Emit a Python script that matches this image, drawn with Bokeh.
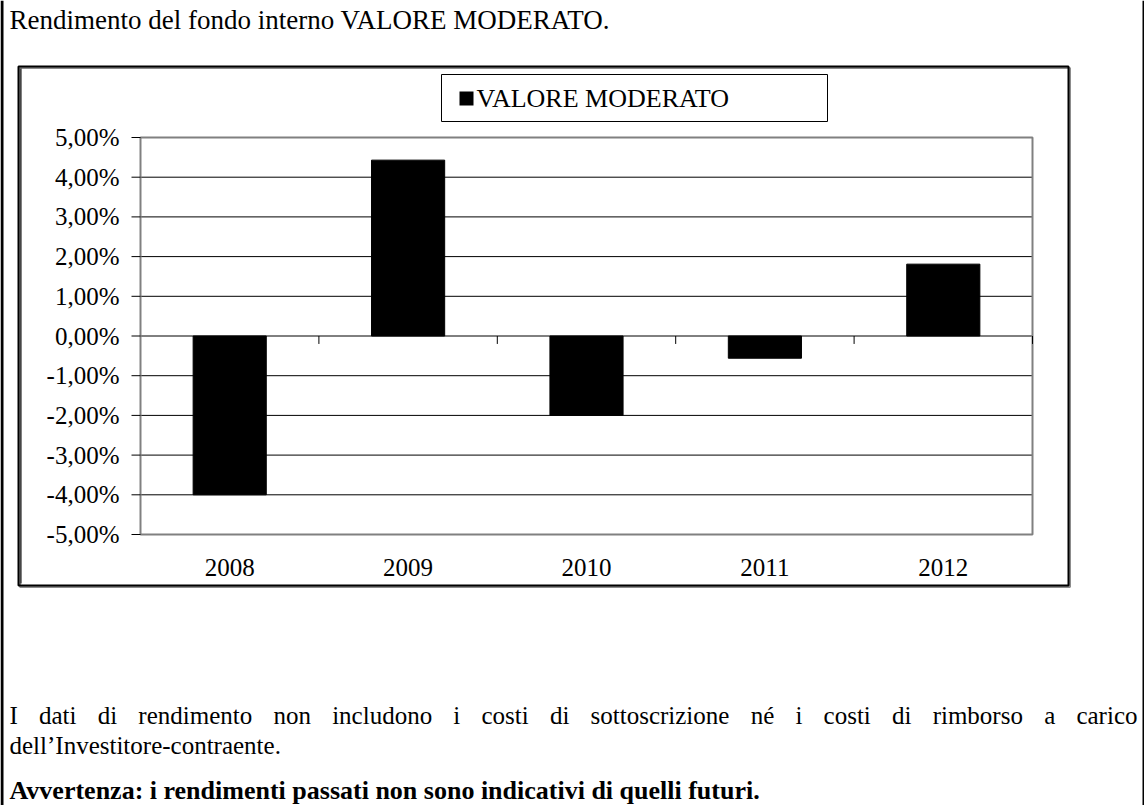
from bokeh.plotting import figure
from bokeh.models import Range1d
from bokeh.core.properties import value
from bokeh.embed import file_html
from bokeh.resources import INLINE

# ---------------- data ----------------
years = ["2008", "2009", "2010", "2011", "2012"]
returns = [-4.00, 4.43, -2.00, -0.56, 1.81]
series_name = "VALORE MODERATO"
y_tick_values = [-5, -4, -3, -2, -1, 0, 1, 2, 3, 4, 5]
y_tick_labels = ["-5,00%", "-4,00%", "-3,00%", "-2,00%", "-1,00%", "0,00%",
                 "1,00%", "2,00%", "3,00%", "4,00%", "5,00%"]
title_text = "Rendimento del  fondo interno VALORE MODERATO."
note_line1 = "I dati di rendimento non includono i costi di sottoscrizione né i costi di rimborso a carico"
note_line2 = "dell\u2019Investitore-contraente."
warning_text = "Avvertenza: i rendimenti passati non sono indicativi di quelli futuri."

# ---------------- layout (page px) ----------------
W, H = 1144, 805
PL, PT, PR, PB = 140, 137, 1032, 534          # plot area
FONT = "Liberation Serif"

xpos = list(range(1, len(years) + 1))
n = len(years)
y_lo, y_hi = y_tick_values[0], y_tick_values[-1]
ppx = (PR - PL) / n
ppy = (PB - PT) / (y_hi - y_lo)

x_range = Range1d(0.5 - PL / ppx, n + 0.5 + (W - PR) / ppx)
y_range = Range1d(y_lo - (H - PB) / ppy, y_hi + PT / ppy)

p = figure(width=W, height=H, output_backend="svg", toolbar_location=None,
           x_range=x_range, y_range=y_range,
           x_axis_type=None, y_axis_type=None, min_border=0)
p.extra_x_ranges = {"px": Range1d(0, W)}
p.extra_y_ranges = {"px": Range1d(H, 0)}
p.outline_line_color = None
p.background_fill_color = "white"
p.border_fill_color = "white"
PX = dict(x_range_name="px", y_range_name="px")

# outer page frame lines
p.quad(left=[0, 1142], right=[3, 1143.5], top=[0, 0], bottom=[H, H],
       fill_color="black", line_color=None, **PX)

# chart box with shadow and double left edge
p.quad(left=[19.5], right=[1069.5], top=[67.5], bottom=[586.5],
       fill_alpha=0, line_color="#8c8c8c", line_width=2, **PX)
p.quad(left=[18], right=[1068], top=[66], bottom=[585],
       fill_alpha=0, line_color="black", line_width=2, **PX)
p.segment(x0=[20.5], x1=[20.5], y0=[68], y1=[583],
          line_color="black", line_width=1, **PX)

# gridlines
inner = [v for v in y_tick_values if y_lo < v < y_hi]
p.segment(x0=[0.5] * len(inner), x1=[n + 0.5] * len(inner), y0=inner, y1=inner,
          line_color="black", line_width=1)

# bars
p.vbar(x=xpos, top=returns, bottom=0, width=0.41,
       fill_color="black", line_color="black")

# plot-area border
p.quad(left=[0.5], right=[n + 0.5], bottom=[y_lo], top=[y_hi],
       fill_alpha=0, line_color="#808080", line_width=2)

# category tick marks on the zero line
bounds = [x + 0.5 for x in xpos]
p.segment(x0=bounds, x1=bounds, y0=[0] * n, y1=[-0.2] * n,
          line_color="black", line_width=1)

# y-axis ticks and labels
p.segment(x0=[PL - 9] * len(y_tick_values), x1=[PL] * len(y_tick_values),
          y0=y_tick_values, y1=y_tick_values, x_range_name="px",
          line_color="black", line_width=1)
p.text(x=[PL - 21] * len(y_tick_values), y=y_tick_values, text=y_tick_labels,
       x_range_name="px", text_font=value(FONT), text_font_size="25px",
       text_align="right", text_baseline="middle", text_color="black")

# x-axis labels
p.text(x=xpos, y=[567] * n, text=years, y_range_name="px",
       text_font=value(FONT), text_font_size="25px",
       text_align="center", text_baseline="middle", text_color="black")

# legend
p.quad(left=[441], right=[827], top=[74], bottom=[121],
       fill_color="white", line_color="black", line_width=1, **PX)
p.quad(left=[459], right=[473], top=[91], bottom=[105],
       fill_color="black", line_color=None, **PX)
p.text(x=[476], y=[98], text=[series_name], **PX,
       text_font=value(FONT), text_font_size="26px",
       text_align="left", text_baseline="middle", text_color="black")


def add_text(texts, xs, ys, size, bold=False):
    p.text(x=xs, y=ys, text=texts, **PX, text_font=value(FONT),
           text_font_size=f"{size}px",
           text_font_style="bold" if bold else "normal",
           text_align="left", text_baseline="middle", text_color="black")


add_text([title_text], [9], [19.5], 27)

# justified first note line (Times metrics, per-mille em)
widths = {'I': 333, 'a': 444, 'b': 500, 'c': 444, 'd': 500, 'e': 444, 'f': 333,
          'g': 500, 'h': 500, 'i': 278, 'l': 278, 'm': 778, 'n': 500, 'o': 500,
          'p': 500, 'r': 333, 's': 389, 't': 278, 'u': 500, 'v': 500, 'z': 444,
          '\u00e9': 444}
size1 = 25
words = note_line1.split(" ")
ww = [sum(widths.get(ch, 500) for ch in w) / 1000 * size1 for w in words]
left, right = 9, 1137
gap = (right - left - sum(ww)) / (len(words) - 1)
xs = []
xcur = left
for wd in ww:
    xs.append(xcur)
    xcur += wd + gap
add_text(words, xs, [714.5] * len(words), size1)

add_text([note_line2], [9], [745], 25)
add_text([warning_text], [9], [789.5], 26, bold=True)

open("out.html", "w").write(file_html(p, INLINE))
